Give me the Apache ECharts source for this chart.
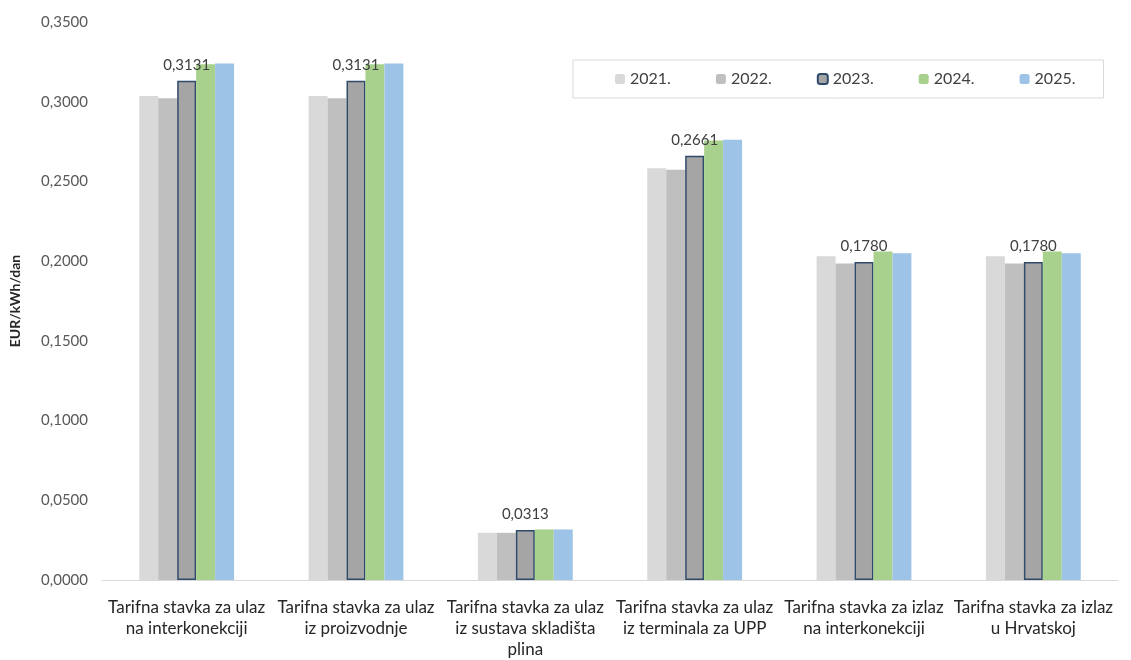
<!DOCTYPE html>
<html>
<head>
<meta charset="utf-8">
<script src="https://cdn.jsdelivr.net/npm/echarts@6/dist/echarts.min.js"></script>
<style>
  html, body { margin: 0; padding: 0; background: #fff; }
  #chart { width: 1131px; height: 660px; }
</style>
</head>
<body>
<div id="chart"></div>
<script>
// kategorije (x os)
var categories = [
    'Tarifna stavka za ulaz\nna interkonekciji',
    'Tarifna stavka za ulaz\niz proizvodnje',
    'Tarifna stavka za ulaz\niz sustava skladišta\nplina',
    'Tarifna stavka za ulaz\niz terminala za UPP',
    'Tarifna stavka za izlaz\nna interkonekciji',
    'Tarifna stavka za izlaz\nu Hrvatskoj'
]
var years = ['2021.', '2022.', '2023.', '2024.', '2025.']
var v2021 = [0.3036, 0.3036, 0.0296, 0.2583, 0.2030, 0.2030]
var v2022 = [0.3021, 0.3021, 0.0296, 0.2573, 0.1985, 0.1985]
var v2023 = [0.3131, 0.3131, 0.0313, 0.2661, 0.1995, 0.1995]
var v2024 = [0.3235, 0.3235, 0.0317, 0.2757, 0.2060, 0.2060]
var v2025 = [0.3240, 0.3240, 0.0317, 0.2761, 0.2050, 0.2050]
// oznake iznad stupaca 2023. (kako su ispisane na grafu)
var labels2023 = ['0,3131', '0,3131', '0,0313', '0,2661', '0,1780', '0,1780']
var yTicks = [0, 0.05, 0.1, 0.15, 0.2, 0.25, 0.3, 0.35]

var colors = ['#d9d9d9', '#bfbfbf', '#a5a5a5', '#a9d18e', '#9dc3e6']
var fontFamily = 'Lato, "Liberation Sans", sans-serif'

function fmt(v) {
    return v.toFixed(4).replace('.', ',')
}

var chart = echarts.init(document.getElementById('chart'))

var seriesData = [v2021, v2022, v2023, v2024, v2025]
var series = seriesData.map(function (data, i) {
    var s = {
        name: years[i],
        type: 'bar',
        data: data,
        barGap: '0%',
        barCategoryGap: '44%',
        itemStyle: { color: colors[i] }
    }
    if (i === 2) {
        s.itemStyle.borderColor = '#2f4a6a'
        s.itemStyle.borderWidth = 1.5
        s.label = {
            show: true,
            position: 'top',
            distance: 8,
            fontFamily: fontFamily,
            fontSize: 15,
            color: '#404040',
            formatter: function (p) { return labels2023[p.dataIndex] }
        }
    }
    return s
})

var option = {
    animation: false,
    color: colors,
    grid: { left: 100, right: 13, top: 22, bottom: 80 },
    legend: {
        data: years,
        left: 573,
        top: 60,
        padding: [11, 28, 11, 42],
        itemGap: 45,
        itemWidth: 10,
        itemHeight: 10,
        backgroundColor: '#fff',
        borderColor: '#d9d9d9',
        borderWidth: 1,
        textStyle: { fontFamily: fontFamily, fontSize: 16, color: '#404040' }
    },
    xAxis: {
        type: 'category',
        data: categories,
        axisLine: { lineStyle: { color: '#d9d9d9', width: 1 } },
        axisTick: { show: false },
        axisLabel: {
            interval: 0,
            margin: 17,
            fontFamily: fontFamily,
            fontSize: 17,
            lineHeight: 21,
            color: '#262626'
        }
    },
    yAxis: {
        type: 'value',
        min: yTicks[0],
        max: yTicks[yTicks.length - 1],
        interval: 0.05,
        name: 'EUR/kWh/dan',
        nameLocation: 'middle',
        nameGap: 80,
        nameTextStyle: { fontFamily: fontFamily, fontSize: 14, fontWeight: 'bold', color: '#262626' },
        axisLine: { show: false },
        axisTick: { show: false },
        splitLine: { show: false },
        axisLabel: {
            margin: 14,
            fontFamily: fontFamily,
            fontSize: 15,
            color: '#595959',
            formatter: function (v) { return fmt(v) }
        }
    },
    series: series
}

chart.setOption(option)
</script>
</body>
</html>
